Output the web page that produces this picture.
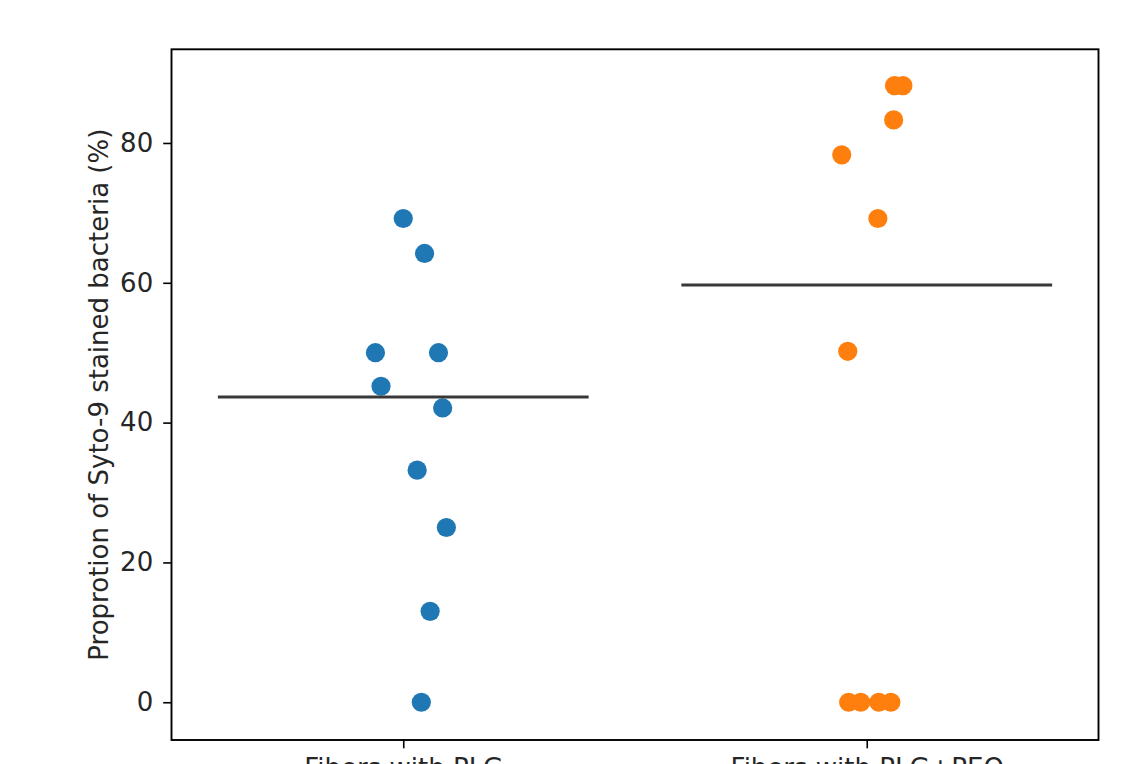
<!DOCTYPE html>
<html>
<head>
<meta charset="utf-8">
<script src="https://cdn.jsdelivr.net/npm/d3@7"></script>
<style>
  body { margin: 0; background: #fff; }
  text { font-family: 'DejaVu Sans', sans-serif; }
</style>
</head>
<body>
<div id="chart"></div>
<script>
// values
const categories = ['Fibers with PLG', 'Fibers with PLG+PEO']
const plgValues = [69.2, 64.2, 50, 50, 45.2, 42.1, 33.2, 25, 13, 0]
const plgJitter = [0, 0.046, -0.06, 0.076, -0.048, 0.085, 0.03, 0.093, 0.058, 0.039]
const pegValues = [88.2, 88.2, 83.3, 78.3, 69.2, 50.2, 0, 0, 0, 0]
const pegJitter = [0.06, 0.078, 0.058, -0.054, 0.024, -0.041, -0.039, -0.013, 0.026, 0.052]
const yTicks = [0, 20, 40, 60, 80]
const colors = ['#1f77b4', '#ff7f0e']

const width = 1127
const height = 764
const margin = { top: 49.3, right: 28.5, bottom: 24, left: 171.5 }
const fontSize = 26

const svg = d3
  .select('#chart')
  .append('svg')
  .attr('width', width)
  .attr('height', height)

const xPositionScale = d3
  .scaleLinear()
  .domain([-0.5, 1.5])
  .range([margin.left, width - margin.right])

const yPositionScale = d3
  .scaleLinear()
  .domain([-5.4, 93.4])
  .range([height - margin.bottom, margin.top])

const groups = [
  { values: plgValues, jitter: plgJitter },
  { values: pegValues, jitter: pegJitter }
]

const points = []
groups.forEach((g, i) => {
  g.values.forEach((v, j) => {
    points.push({ cat: i, value: v, jitter: g.jitter[j] })
  })
})

svg
  .selectAll('.dot')
  .data(points)
  .enter()
  .append('circle')
  .attr('class', 'dot')
  .attr('cx', d => xPositionScale(d.cat + d.jitter))
  .attr('cy', d => yPositionScale(d.value))
  .attr('r', 9.6)
  .attr('fill', d => colors[d.cat])

// median line for each group
svg
  .selectAll('.median')
  .data(groups)
  .enter()
  .append('line')
  .attr('class', 'median')
  .attr('x1', (d, i) => xPositionScale(i - 0.4))
  .attr('x2', (d, i) => xPositionScale(i + 0.4))
  .attr('y1', d => yPositionScale(d3.median(d.values)))
  .attr('y2', d => yPositionScale(d3.median(d.values)))
  .attr('stroke', '#383838')
  .attr('stroke-width', 3)

const yAxis = d3
  .axisLeft(yPositionScale)
  .tickValues(yTicks)
  .tickSize(8.3)
  .tickPadding(10)
svg
  .append('g')
  .attr('class', 'axis y-axis')
  .attr('transform', 'translate(' + margin.left + ',0)')
  .call(yAxis)

const xAxis = d3
  .axisBottom(xPositionScale)
  .tickValues([0, 1])
  .tickFormat(i => categories[i])
  .tickSize(8.3)
  .tickPadding(10)
svg
  .append('g')
  .attr('class', 'axis x-axis')
  .attr('transform', 'translate(0,' + (height - margin.bottom) + ')')
  .call(xAxis)

svg.selectAll('.axis .domain').remove()
svg.selectAll('.axis line').attr('stroke', '#000').attr('stroke-width', 1.6)
svg.selectAll('.axis text').attr('font-size', fontSize).attr('fill', '#262626')
  .style('font-family', "'DejaVu Sans', sans-serif")

// frame
svg
  .append('rect')
  .attr('x', margin.left)
  .attr('y', margin.top)
  .attr('width', width - margin.left - margin.right)
  .attr('height', height - margin.top - margin.bottom)
  .attr('fill', 'none')
  .attr('stroke', '#000')
  .attr('stroke-width', 1.9)

svg
  .append('text')
  .attr('transform', 'translate(108,' + (margin.top + height - margin.bottom) / 2 + ') rotate(-90)')
  .attr('text-anchor', 'middle')
  .attr('font-size', fontSize)
  .attr('fill', '#262626')
  .text('Proprotion of Syto-9 stained bacteria (%)')
</script>
</body>
</html>
